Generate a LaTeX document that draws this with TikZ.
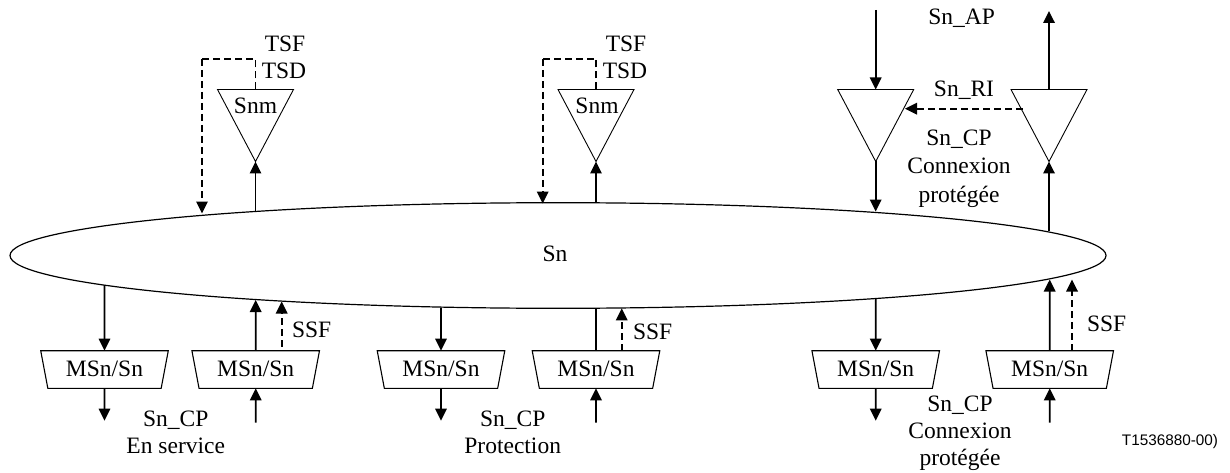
\documentclass[tikz,border=0pt]{standalone}
\usepackage{fontspec}
\setmainfont{Liberation Serif}
\newfontfamily\labelsans{Liberation Sans}
\usetikzlibrary{arrows.meta,shapes.geometric}
\tikzset{
  lbl/.style={anchor=base,inner sep=0pt,outer sep=0pt,align=center,font=\fontsize{23.5}{27.7}\selectfont},
  tri/.style={draw,line width=0.9pt,isosceles triangle,isosceles triangle stretches,shape border rotate=270,
    minimum width=76pt,minimum height=72pt,inner sep=0pt,outer sep=0pt,anchor=apex},
  msn/.style={draw,line width=1.1pt,trapezium,trapezium stretches=true,shape border rotate=180,trapezium angle=73.7,
    minimum width=128pt,minimum height=37.6pt,inner sep=0pt,outer sep=0pt,font=\fontsize{23.5}{27.7}\selectfont},
  solidarrow/.style={line width=1.7pt,-{Triangle[length=12pt,width=11.5pt]}},
  plainline/.style={line width=1.7pt},
  dasharrow/.style={line width=1.7pt,dash pattern=on 7pt off 4pt,-{Triangle[length=12pt,width=11.5pt]}},
  dashline/.style={line width=1.7pt,dash pattern=on 7pt off 4pt},
}
\begin{document}
\begin{tikzpicture}[x=1pt,y=-1pt]
\useasboundingbox (0,0) rectangle (1230,473);
% central ellipse
\node[draw,line width=1.2pt,ellipse,minimum width=1096pt,minimum height=105.6pt,inner sep=0pt,outer sep=0pt] (sn) at (558,255.5) {};
\node[lbl] (snlabel) at (555,261.7) {Sn};
% triangles
\node[tri] (t1) at (255.5,161.5) {};
\node[tri] (t2) at (596,161.5) {};
\node[tri] (t3) at (875.7,161.5) {};
\node[tri] (t4) at (1049,161.5) {};
\node[lbl] (snm1) at (255.5,113.3) {Snm};
\node[lbl] (snm2) at (597,113.3) {Snm};
% boxes
\node[msn] (b1) at (104.5,369.5) {\raisebox{1pt}{MSn/Sn}};
\node[msn] (b2) at (255.7,369.5) {\raisebox{1pt}{MSn/Sn}};
\node[msn] (b3) at (441,369.5) {\raisebox{1pt}{MSn/Sn}};
\node[msn] (b4) at (596,369.5) {\raisebox{1pt}{MSn/Sn}};
\node[msn] (b5) at (875.7,369.5) {\raisebox{1pt}{MSn/Sn}};
\node[msn] (b6) at (1049.7,369.5) {\raisebox{1pt}{MSn/Sn}};
% connector ends
\coordinate (d1t) at (202,59);
\coordinate (d1e) at (202,213.5);
\coordinate (d1c) at (255.5,59);
\coordinate (e1) at (255.5,211.5);
\coordinate (d2t) at (542.7,59);
\coordinate (d2e) at (542.7,203.5);
\coordinate (d2c) at (596,59);
\coordinate (e2) at (596,202.8);
\coordinate (in3) at (875.7,10);
\coordinate (e3) at (875.7,211.5);
\coordinate (out4) at (1049,11);
\coordinate (e4) at (1049,231);
\coordinate (ri4) at (1022.7,108.7);
\coordinate (ri3) at (905,108.7);
\coordinate (eb1) at (104.5,285);
\coordinate (eb2) at (255.7,300);
\coordinate (sb2) at (281.7,346.7);
\coordinate (eb2d) at (281.7,301.5);
\coordinate (o1) at (104.5,420.7);
\coordinate (i2) at (255.7,422.7);
\coordinate (eb3) at (441,307.5);
\coordinate (o3) at (441,420.7);
\coordinate (i4) at (596,422.7);
\coordinate (eb4) at (596,308.3);
\coordinate (sb4) at (621.7,350.7);
\coordinate (eb4d) at (621.7,308.3);
\coordinate (eb5) at (875.7,298);
\coordinate (o5) at (875.7,420.7);
\coordinate (i6) at (1049.7,422.7);
\coordinate (eb6) at (1049.7,279.5);
\coordinate (sb6) at (1072,350.7);
\coordinate (eb6d) at (1072,279.5);
% connectors top
\draw[dashline] (t1.lower side) -- (d1c) -- (d1t);
\draw[dasharrow] (d1t) -- (d1e);
\draw[solidarrow] (e1) -- (t1.apex);
\draw[dashline] (t2.lower side) -- (d2c) -- (d2t);
\draw[dasharrow] (d2t) -- (d2e);
\draw[solidarrow] (e2) -- (t2.apex);
\draw[solidarrow] (in3) -- (t3.lower side);
\draw[solidarrow] (t3.apex) -- (e3);
\draw[solidarrow] (t4.lower side) -- (out4);
\draw[solidarrow] (e4) -- (t4.apex);
\draw[dasharrow] (ri4) -- (ri3);
% connectors bottom
\draw[solidarrow] (eb1) -- (b1.north);
\draw[solidarrow] (b1.south) -- (o1);
\draw[solidarrow] (b2.north) -- (eb2);
\draw[dasharrow] (sb2) -- (eb2d);
\draw[solidarrow] (i2) -- (b2.south);
\draw[solidarrow] (eb3) -- (b3.north);
\draw[solidarrow] (b3.south) -- (o3);
\draw[plainline] (b4.north) -- (eb4);
\draw[dasharrow] (sb4) -- (eb4d);
\draw[solidarrow] (i4) -- (b4.south);
\draw[solidarrow] (eb5) -- (b5.north);
\draw[solidarrow] (b5.south) -- (o5);
\draw[solidarrow] (b6.north) -- (eb6);
\draw[dasharrow] (sb6) -- (eb6d);
\draw[solidarrow] (i6) -- (b6.south);
% labels
\node[lbl] (tsf1) at (285,51.5) {TSF};
\node[lbl] (tsd1) at (284,79) {TSD};
\node[lbl] (tsf2) at (626,51.5) {TSF};
\node[lbl] (tsd2) at (625,79) {TSD};
\node[lbl] (ap) at (961.7,24.3) {Sn\_AP};
\node[lbl] (ri) at (964,97) {Sn\_RI};
\node[lbl] (cp1) at (959,146) {Sn\_CP};
\node[lbl] (cp1b) at (959,174) {Connexion};
\node[lbl] (cp1c) at (959,202) {protégée};
\node[lbl] (ssf1) at (311.7,337.3) {SSF};
\node[lbl] (ssf2) at (652.7,339.3) {SSF};
\node[lbl] (ssf3) at (1106.7,331) {SSF};
\node[lbl] (cp2) at (175.7,426) {Sn\_CP};
\node[lbl] (cp2b) at (175.7,453.3) {En service};
\node[lbl] (cp3) at (512.7,426) {Sn\_CP};
\node[lbl] (cp3b) at (512.7,453.3) {Protection};
\node[lbl] (cp4) at (960,411.7) {Sn\_CP};
\node[lbl] (cp4b) at (960,438.5) {Connexion};
\node[lbl] (cp4c) at (960,465.5) {protégée};
\node[anchor=base,inner sep=0pt,font=\labelsans\fontsize{15.3}{18}\selectfont] (ref) at (1170,445) {T1536880-00)};
\end{tikzpicture}
\end{document}
